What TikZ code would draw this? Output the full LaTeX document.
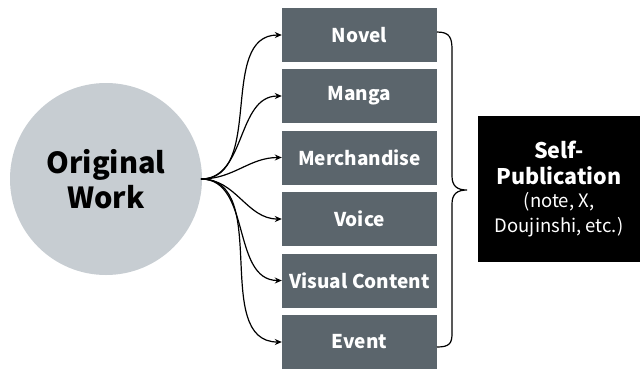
\documentclass[tikz,border=0pt]{standalone}
\usepackage{fontspec}
\setmainfont{Noto Sans CJK JP}
\usetikzlibrary{arrows.meta}
\definecolor{boxgray}{HTML}{5B656C}
\definecolor{circgray}{HTML}{C7CDD2}
\newcommand{\regsmall}{\mdseries\fontsize{18.5}{23}\selectfont}
\begin{document}
\begin{tikzpicture}[x=1pt,y=-1pt,
  cat/.style={fill=boxgray,text=white,font=\bfseries\fontsize{19}{21}\selectfont,
    minimum width=155pt,minimum height=54pt,inner sep=0pt},
  conn/.style={-{Stealth[length=7pt,width=6pt]},line width=1.2pt},
  bracestyle/.style={line width=1.2pt}]
\useasboundingbox (0,0) rectangle (640,368);
\node[circle,fill=circgray,minimum size=192pt,inner sep=0pt,align=center,
  font=\bfseries\fontsize{29}{35}\selectfont] (orig) at (106,179) {Original\\Work};
\node[cat] (nov) at (359.5,35) {Novel};
\node[cat] (man) at (359.5,96) {Manga};
\node[cat] (mer) at (359.5,157.5) {Merchandise};
\node[cat] (voi) at (359.5,219) {Voice};
\node[cat] (vis) at (359.5,280.5) {Visual Content};
\node[cat] (eve) at (359.5,342) {Event};
\coordinate (src) at (201,179);
\foreach \n in {nov,man,mer,voi,vis,eve}
  \draw[conn] (src) to[out=0,in=180] (\n.west);
\draw[bracestyle] (437,32) .. controls (450,32) and (452,38) .. (452,50) -- (452,176)
  .. controls (452,186) and (457,190) .. (467,190)
  .. controls (457,190) and (452,194) .. (452,204) -- (452,333)
  .. controls (452,343) and (450,347) .. (437,347);
\node[fill=black,text=white,minimum width=162pt,minimum height=146pt,inner sep=0pt,align=center,
  font=\bfseries\fontsize{21.5}{26}\selectfont]
  (self) at (559,189)
  {Self-\\Publication\\[-3pt]
   {\regsmall (note, X,}\\[-1pt]{\regsmall Doujinshi, etc.)}};
\end{tikzpicture}
\end{document}
